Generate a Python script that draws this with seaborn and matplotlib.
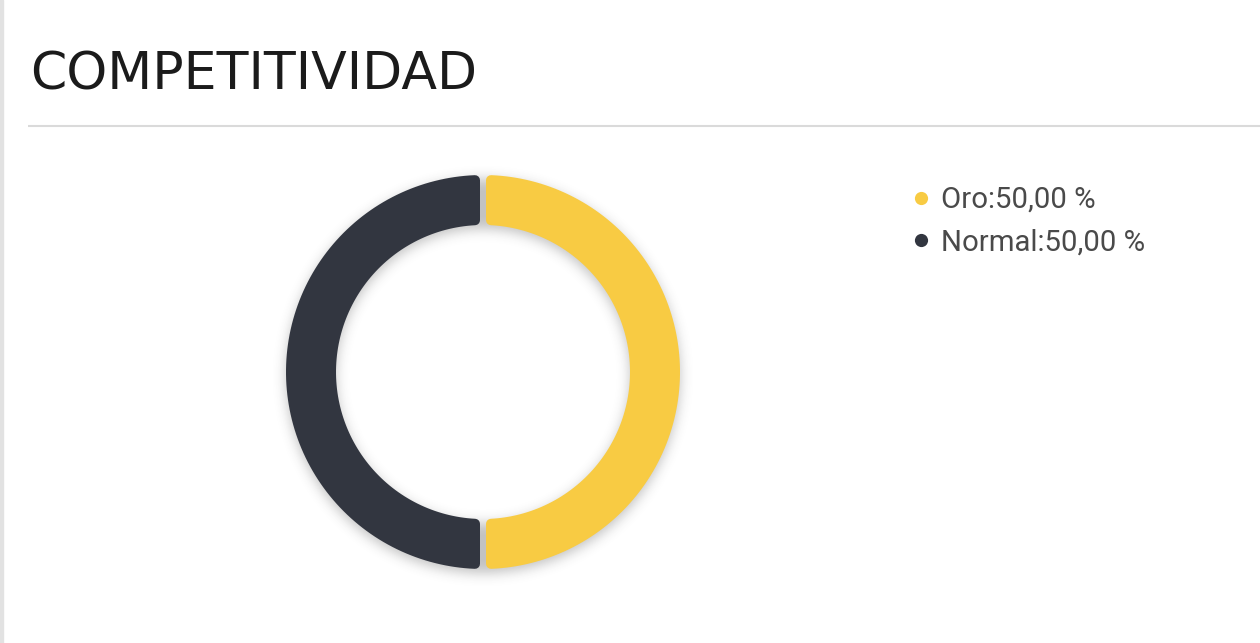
import numpy as np
import matplotlib
matplotlib.use("Agg")
import matplotlib.pyplot as plt
import seaborn as sns
from matplotlib.patches import Polygon
from matplotlib.lines import Line2D

sns.set_theme(style="white")
plt.rcParams["font.family"] = ["DejaVu Sans"]

# data
categories = ["Oro", "Normal"]
shares = [50.0, 50.0]
palette = ["#F8CB43", "#323640"]
title = "COMPETITIVIDAD"

W, H = 1260, 643
fig = plt.figure(figsize=(W / 100, H / 100), dpi=100)
fig.patch.set_facecolor("white")
ax = fig.add_axes([0, 0, 1, 1])

cx, cy = 483, 372
R_out, R_in = 197, 147
gap = 6.0       # parallel gap between slices (px)
corner = 5.0    # corner rounding radius (px)

# soft drop shadow under the ring
pad = 40
xs = np.arange(cx - R_out - pad, cx + R_out + pad)
ys = np.arange(cy - R_out - pad, cy + R_out + pad)
X, Y = np.meshgrid(xs + 0.5, ys + 0.5)
rr = np.hypot(X - cx, Y - (cy + 4))
mask = ((rr <= R_out) & (rr >= R_in)).astype(float)
sig = 6.0
k = np.arange(-20, 21)
kern = np.exp(-k ** 2 / (2 * sig ** 2))
kern /= kern.sum()
blur = np.apply_along_axis(lambda v: np.convolve(v, kern, mode="same"), 0, mask)
blur = np.apply_along_axis(lambda v: np.convolve(v, kern, mode="same"), 1, blur)
rgba = np.zeros(blur.shape + (4,))
rgba[..., :3] = 0.25
rgba[..., 3] = blur * 0.32
ax.imshow(rgba, extent=(xs[0], xs[-1] + 1, ys[-1] + 1, ys[0]),
          interpolation="bilinear", zorder=1)

wedges, _ = ax.pie(shares, colors=palette, startangle=90, counterclock=False,
                   center=(cx, cy), radius=R_out, frame=True,
                   wedgeprops=dict(width=R_out - R_in, linewidth=0))


def ring_segment(t1, t2, r_o, r_i, d, n=120):
    """Ring segment between angles t1..t2 (deg) with edges offset by d."""
    t1, t2 = np.deg2rad(t1), np.deg2rad(t2)
    ao = np.arcsin(d / r_o)
    ai = np.arcsin(d / r_i)
    th_o = np.linspace(t1 + ao, t2 - ao, n)
    th_i = np.linspace(t2 - ai, t1 + ai, n)
    # y axis is inverted (pixel space), so mirror the angle
    pts_o = np.c_[cx + r_o * np.cos(th_o), cy - r_o * np.sin(th_o)]
    pts_i = np.c_[cx + r_i * np.cos(th_i), cy - r_i * np.sin(th_i)]
    return np.vstack([pts_o, pts_i])


for w in wedges:
    fc = w.get_facecolor()
    w.set_visible(False)
    pts = ring_segment(w.theta1, w.theta2, w.r - corner,
                       w.r - w.width + corner, gap / 2 + corner)
    ax.add_patch(Polygon(pts, closed=True, facecolor=fc, edgecolor=fc,
                         linewidth=2 * corner * 0.72, joinstyle="round",
                         zorder=3))

ax.set_xlim(0, W)
ax.set_ylim(H, 0)
ax.set_aspect("auto")
ax.axis("off")

# page chrome: left rule, title, separator
ax.axvspan(0, 3, color="#e2e2e2", zorder=0)
ax.text(30, 89, title, fontsize=37.5, color="#1b1b1b", va="baseline",
        ha="left", family=["DejaVu Sans"])
ax.plot([28, W], [126, 126], color="#dadada", lw=1.5, solid_capstyle="butt")

# legend
labels = [f"{c}:{v:.2f} %".replace(".", ",") for c, v in zip(categories, shares)]
handles = [Line2D([], [], ls="", marker="o", markersize=9.5, color=c,
                  markeredgewidth=0) for c in palette]
leg = ax.legend(handles, labels, loc="upper left",
                bbox_to_anchor=(912 / W, 1 - 186 / H), bbox_transform=fig.transFigure,
                frameon=False, handlelength=0.6, handletextpad=0.39,
                borderpad=0, borderaxespad=0, labelspacing=0.5,
                prop={"family": "Roboto", "size": 21.2}, labelcolor="#4a4a4a")

fig.savefig("out.png", dpi=100, facecolor="white")
